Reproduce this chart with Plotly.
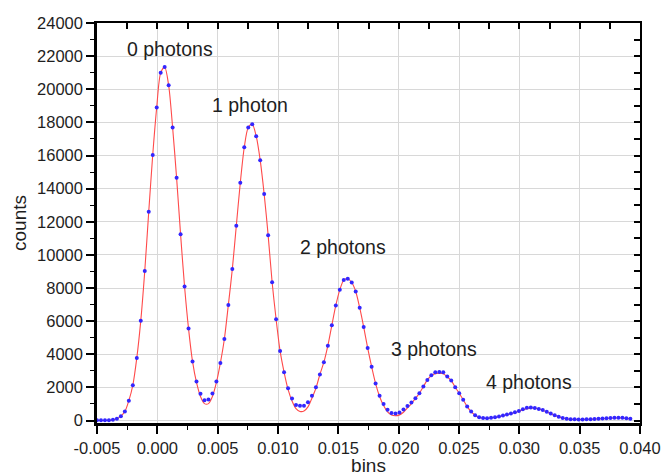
import numpy as np
import plotly.graph_objects as go

# measured histogram (counts per bin)
counts = [10, 10, 15, 20, 40, 100, 260, 540, 1200, 2130,
          3780, 6030, 9030, 12600, 16030, 18900, 20990, 21340, 20240, 17690,
          14650, 11240, 8090, 5550, 3570, 2360, 1620, 1220, 1270, 1630,
          2350, 3480, 4920, 6980, 9150, 11760, 14350, 16500, 17690, 17890,
          17170, 15720, 13670, 11180, 8350, 6110, 4200, 2920, 1950, 1330,
          930, 890, 890, 1100, 1490, 2010, 2780, 3520, 4520, 5750,
          6950, 7890, 8480, 8560, 8330, 7790, 6810, 5650, 4380, 3250,
          2230, 1500, 1000, 655, 450, 430, 480, 660, 870, 1090,
          1350, 1650, 2050, 2450, 2730, 2920, 2930, 2920, 2650, 2410,
          2010, 1650, 1250, 840, 540, 320, 200, 150, 140, 160,
          200, 240, 300, 360, 420, 500, 580, 680, 770, 790,
          760, 700, 630, 530, 420, 320, 220, 150, 100, 80,
          70, 60, 60, 70, 80, 90, 100, 120, 130, 150,
          160, 170, 160, 140, 110]

# fitted curve evaluated at the same bins
fit = [0, 0, 5, 15, 40, 100, 260, 540, 1200, 2130,
       3780, 6030, 9030, 12600, 16030, 18900, 20990, 21340, 20240, 17690,
       14650, 11240, 8090, 5550, 3570, 2300, 1450, 1020, 1020, 1450,
       2300, 3480, 4920, 6980, 9150, 11760, 14350, 16500, 17690, 17890,
       17170, 15720, 13670, 11180, 8350, 6110, 4200, 2920, 1880, 1180,
       720, 550, 570, 820, 1350, 1950, 2780, 3520, 4520, 5750,
       6950, 7890, 8480, 8560, 8330, 7790, 6810, 5650, 4380, 3250,
       2230, 1450, 900, 520, 330, 290, 340, 500, 760, 1020,
       1330, 1650, 2050, 2450, 2720, 2830, 2850, 2820, 2640, 2410,
       2010, 1650, 1250, 840, 540, 320, 180, 140, 130, 150,
       190, 230, 290, 350, 410, 480, 560, 650, 720, 750,
       740, 690, 620, 520, 420, 320, 220, 150, 100, 80,
       70, 60, 60, 70, 80, 90, 100, 110, 125, 140,
       150, 155, 150, 130, 100]

bin_start = -0.005
bin_end = 0.0392
bins = np.linspace(bin_start, bin_end, len(counts))

peak_labels = ["0 photons", "1 photon", "2 photons", "3 photons", "4 photons"]
label_x = [0.00104, 0.0077, 0.01541, 0.0229, 0.03076]
label_y = [22415, 19040, 10490, 4320, 2315]

x_tickvals = [-0.005, 0.0, 0.005, 0.010, 0.015, 0.020, 0.025, 0.030, 0.035, 0.040]
x_ticktext = ["-0.005", "0.000", "0.005", "0.010", "0.015", "0.020", "0.025", "0.030", "0.035", "0.040"]
y_tickvals = list(range(0, 24001, 2000))
y_ticktext = [str(v) for v in y_tickvals]

FONT = "Liberation Sans, Arial, sans-serif"
TXT = "#1e1e1e"
xr = [-0.005, 0.040]
yr = [-150, 24000]

fig = go.Figure()
fig.add_trace(go.Scatter(x=bins, y=fit, mode="lines",
                         line=dict(color="#ff4a4a", width=1.1, shape="spline", smoothing=0.8),
                         showlegend=False, hoverinfo="skip"))
fig.add_trace(go.Scatter(x=bins, y=counts, mode="markers",
                         marker=dict(color="#3326ff", size=4, line=dict(width=0)),
                         showlegend=False))

for t, xv, yv in zip(peak_labels, label_x, label_y):
    fig.add_annotation(x=xv, y=yv, text=t, showarrow=False,
                       font=dict(family=FONT, size=19.5, color=TXT))

common_minor = dict(ticklen=4, tickcolor="black", tickwidth=1, showgrid=False)

fig.update_layout(
    width=662, height=476,
    margin=dict(l=97, r=22, t=23, b=53, autoexpand=False),
    paper_bgcolor="white", plot_bgcolor="white",
    font=dict(family=FONT, color=TXT),
    xaxis=dict(range=xr, tickvals=x_tickvals, ticktext=x_ticktext, automargin=False,
               ticks="outside", ticklen=8, tickwidth=1.5, tickcolor="black",
               showline=True, linecolor="black", linewidth=2.5,
               showgrid=True, gridcolor="#d8d8d8", gridwidth=1,
               zeroline=False,
               minor=dict(tickvals=[-0.0025 + 0.005 * k for k in range(9)], ticks="outside", **common_minor),
               tickfont=dict(size=16.5, family=FONT, color=TXT),
               title=dict(text="bins", font=dict(size=19, family=FONT, color=TXT), standoff=5)),
    yaxis=dict(range=yr, tickvals=y_tickvals, ticktext=y_ticktext, automargin=False,
               ticks="outside", ticklen=8, tickwidth=1.5, tickcolor="black",
               showline=True, linecolor="black", linewidth=2.5,
               showgrid=True, gridcolor="#d8d8d8", gridwidth=1,
               zeroline=False,
               minor=dict(tickvals=[1000 + 2000 * k for k in range(12)], ticks="outside", **common_minor),
               tickfont=dict(size=16.5, family=FONT, color=TXT),
               title=dict(text="counts", font=dict(size=19, family=FONT, color=TXT), standoff=6)),
    xaxis2=dict(range=xr, overlaying="x", side="top", automargin=False,
                tickvals=x_tickvals + [-0.0025 + 0.005 * k for k in range(9)],
                showticklabels=False, ticks="inside", ticklen=6, tickwidth=1.5, tickcolor="black",
                showline=True, linecolor="black", linewidth=2, showgrid=False, zeroline=False),
    yaxis2=dict(range=yr, overlaying="y", side="right", automargin=False,
                tickvals=list(range(0, 24001, 1000)),
                showticklabels=False, ticks="inside", ticklen=6, tickwidth=1.5, tickcolor="black",
                showline=True, linecolor="black", linewidth=2, showgrid=False, zeroline=False),
)
# invisible trace that activates the mirrored frame axes
fig.add_trace(go.Scatter(x=[xr[0]], y=[yr[0]], xaxis="x2", yaxis="y2", mode="markers",
                         marker=dict(opacity=0), showlegend=False, hoverinfo="skip"))

fig.write_html("out.html", config={"displayModeBar": False},
               post_script="document.body.style.margin='0';document.body.style.overflow='hidden';")
